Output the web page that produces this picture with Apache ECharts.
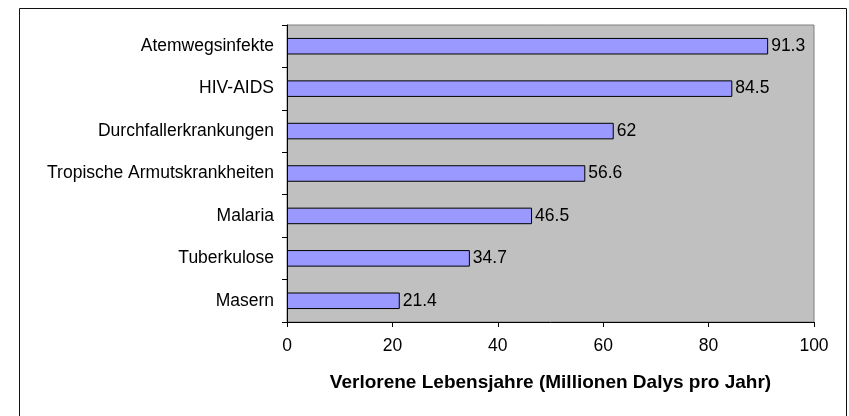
<!DOCTYPE html>
<html>
<head>
<meta charset="utf-8">
<script src="https://cdn.jsdelivr.net/npm/echarts@6/dist/echarts.min.js"></script>
<style>html,body{margin:0;padding:0;background:#fff;}#c{width:849px;height:416px;}</style>
</head>
<body>
<div id="c"></div>
<script>
var categories = ["Atemwegsinfekte", "HIV-AIDS", "Durchfallerkrankungen", "Tropische Armutskrankheiten", "Malaria", "Tuberkulose", "Masern"];
var values = [91.3, 84.5, 62, 56.6, 46.5, 34.7, 21.4];
var axisTitle = "Verlorene Lebensjahre (Millionen Dalys pro Jahr)";

var chart = echarts.init(document.getElementById('c'), null, {renderer: 'canvas'});
var FONT = '"Liberation Sans", Arial, sans-serif';
chart.setOption({
  animation: false,
  backgroundColor: '#ffffff',
  graphic: [{
    type: 'rect', silent: true, z: 0,
    shape: {x: 19.5, y: 8.5, width: 827, height: 430},
    style: {fill: 'none', stroke: '#111', lineWidth: 1}
  }],
  grid: {
    left: 287, right: 35, top: 25, bottom: 94,
    show: true, backgroundColor: '#C0C0C0', borderColor: '#808080', borderWidth: 1
  },
  xAxis: {
    type: 'value', min: 0, max: 100, interval: 20,
    name: axisTitle, nameLocation: 'middle', nameGap: 51,
    nameTextStyle: {fontFamily: FONT, fontSize: 19, fontWeight: 'bold', color: '#000'},
    axisLine: {show: true, lineStyle: {color: '#000', width: 1}},
    axisTick: {show: true, length: 5, lineStyle: {color: '#000'}},
    axisLabel: {fontFamily: FONT, fontSize: 17.5, color: '#000', margin: 15},
    splitLine: {show: false}
  },
  yAxis: {
    type: 'category', data: categories, inverse: true,
    axisLine: {show: true, lineStyle: {color: '#000', width: 1}},
    axisTick: {show: true, length: 5, alignWithLabel: false, lineStyle: {color: '#000'}},
    axisLabel: {fontFamily: FONT, fontSize: 17.5, color: '#000', margin: 13}
  },
  series: [{
    type: 'bar', data: values, barWidth: '39%',
    itemStyle: {color: '#9999FF', borderColor: '#000', borderWidth: 1},
    label: {show: true, position: 'right', distance: 3, fontFamily: FONT, fontSize: 17.5, color: '#000'}
  }]
});
</script>
</body>
</html>
